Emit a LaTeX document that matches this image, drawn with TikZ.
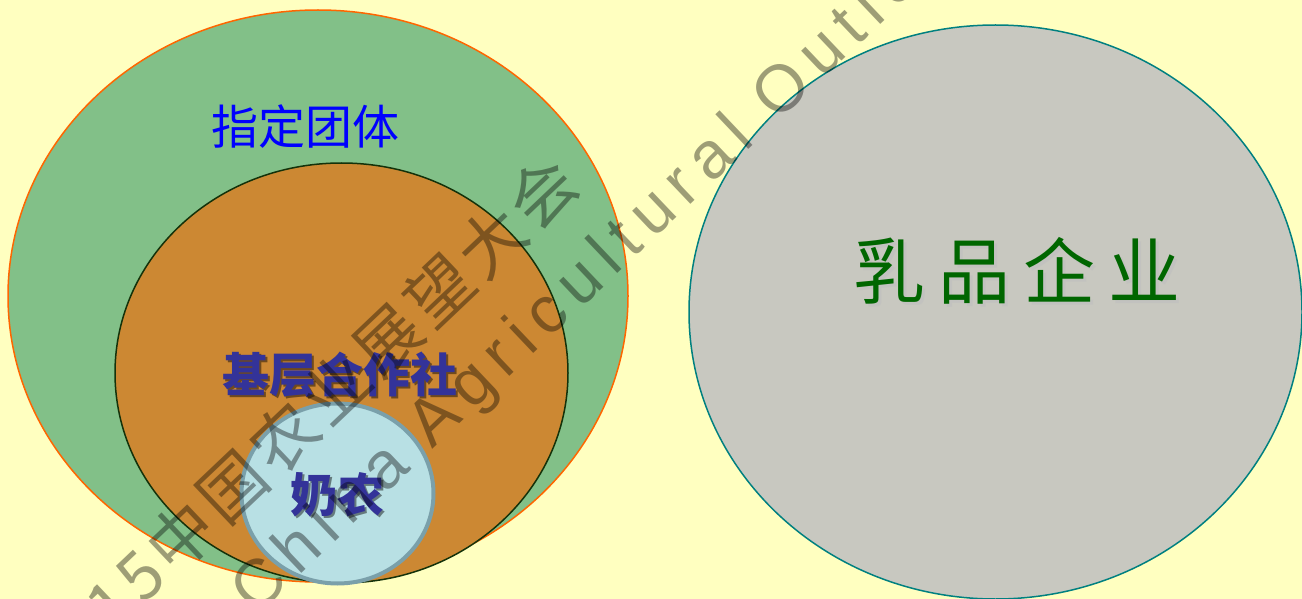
\documentclass[tikz,border=0pt]{standalone}
\usepackage{fontspec}
\newfontfamily\cjk{Noto Sans CJK SC}
\newfontfamily\cjkwide[LetterSpace=18]{Noto Sans CJK SC}
\newfontfamily\wmcjk[LetterSpace=8]{Noto Sans CJK SC}
\newfontfamily\wmlat[LetterSpace=16]{Liberation Sans}
\definecolor{bgyellow}{RGB}{255,255,192}
\definecolor{outergreen}{RGB}{130,192,136}
\definecolor{outeredge}{RGB}{255,102,0}
\definecolor{coopfill}{RGB}{204,136,51}
\definecolor{coopedge}{RGB}{20,50,10}
\definecolor{farmfill}{RGB}{184,224,228}
\definecolor{farmedge}{RGB}{122,160,170}
\definecolor{dairyfill}{RGB}{200,200,192}
\definecolor{dairyedge}{RGB}{0,128,128}
\definecolor{darkblue}{RGB}{51,51,153}
\definecolor{dairygreen}{RGB}{0,102,0}
\tikzset{
  setshape/.style={line width=1.5pt},
  boldlabel/.style={inner sep=0pt, text=darkblue, font=\cjk\bfseries\fontsize{47}{50}\selectfont},
  boldshadow/.style={inner sep=0pt, text=black, opacity=0.45, font=\cjk\bfseries\fontsize{47}{50}\selectfont},
  wmark/.style={inner sep=0pt, text=black, opacity=0.38, rotate=43.5}
}
\begin{document}
\begin{tikzpicture}[x=1pt,y=-1pt]
\useasboundingbox (0,0) rectangle (1302,599);
\clip (0,0) rectangle (1302,599);
\fill[bgyellow] (0,0) rectangle (1302,599);
% sets
\draw[setshape, fill=outergreen, draw=outeredge] (318,296) ellipse [x radius=310, y radius=286];
\draw[setshape, fill=coopfill, draw=coopedge] (341.5,373) ellipse [x radius=226.5, y radius=210];
\draw[line width=4pt, fill=farmfill, draw=farmedge] (337.5,493.5) ellipse [x radius=96, y radius=90];
\draw[setshape, fill=dairyfill, draw=dairyedge] (995.5,312) ellipse [x radius=306.5, y radius=287];
% labels
\node[inner sep=0pt, text=blue, font=\cjk\fontsize{47}{50}\selectfont] (group) at (305,127) {指定团体};
\node[boldshadow] (coopshadow) at (342,377) {基层合作社};
\node[boldlabel] (coop) at (340,375) {基层合作社};
\node[boldshadow] (farmshadow) at (339,497) {奶农};
\node[boldlabel] (farm) at (337,495) {奶农};
\node[inner sep=0pt, text=black!25, opacity=0.6, font=\cjkwide\fontsize{72}{76}\selectfont] (dairyshadow) at (1020,274) {乳品企业};
\node[inner sep=0pt, text=dairygreen, font=\cjkwide\fontsize{72}{76}\selectfont] (dairy) at (1017,271) {乳品企业};
% watermark
\node[wmark, anchor=base east, font=\wmcjk\fontsize{66}{70}\selectfont] (wm1) at (584,188) {2015中国农业展望大会};
\node[wmark, anchor=base west, font=\wmlat\fontsize{66}{70}\selectfont] (wm2) at (256,617) {China Agricultural Outlook};
\end{tikzpicture}
\end{document}
